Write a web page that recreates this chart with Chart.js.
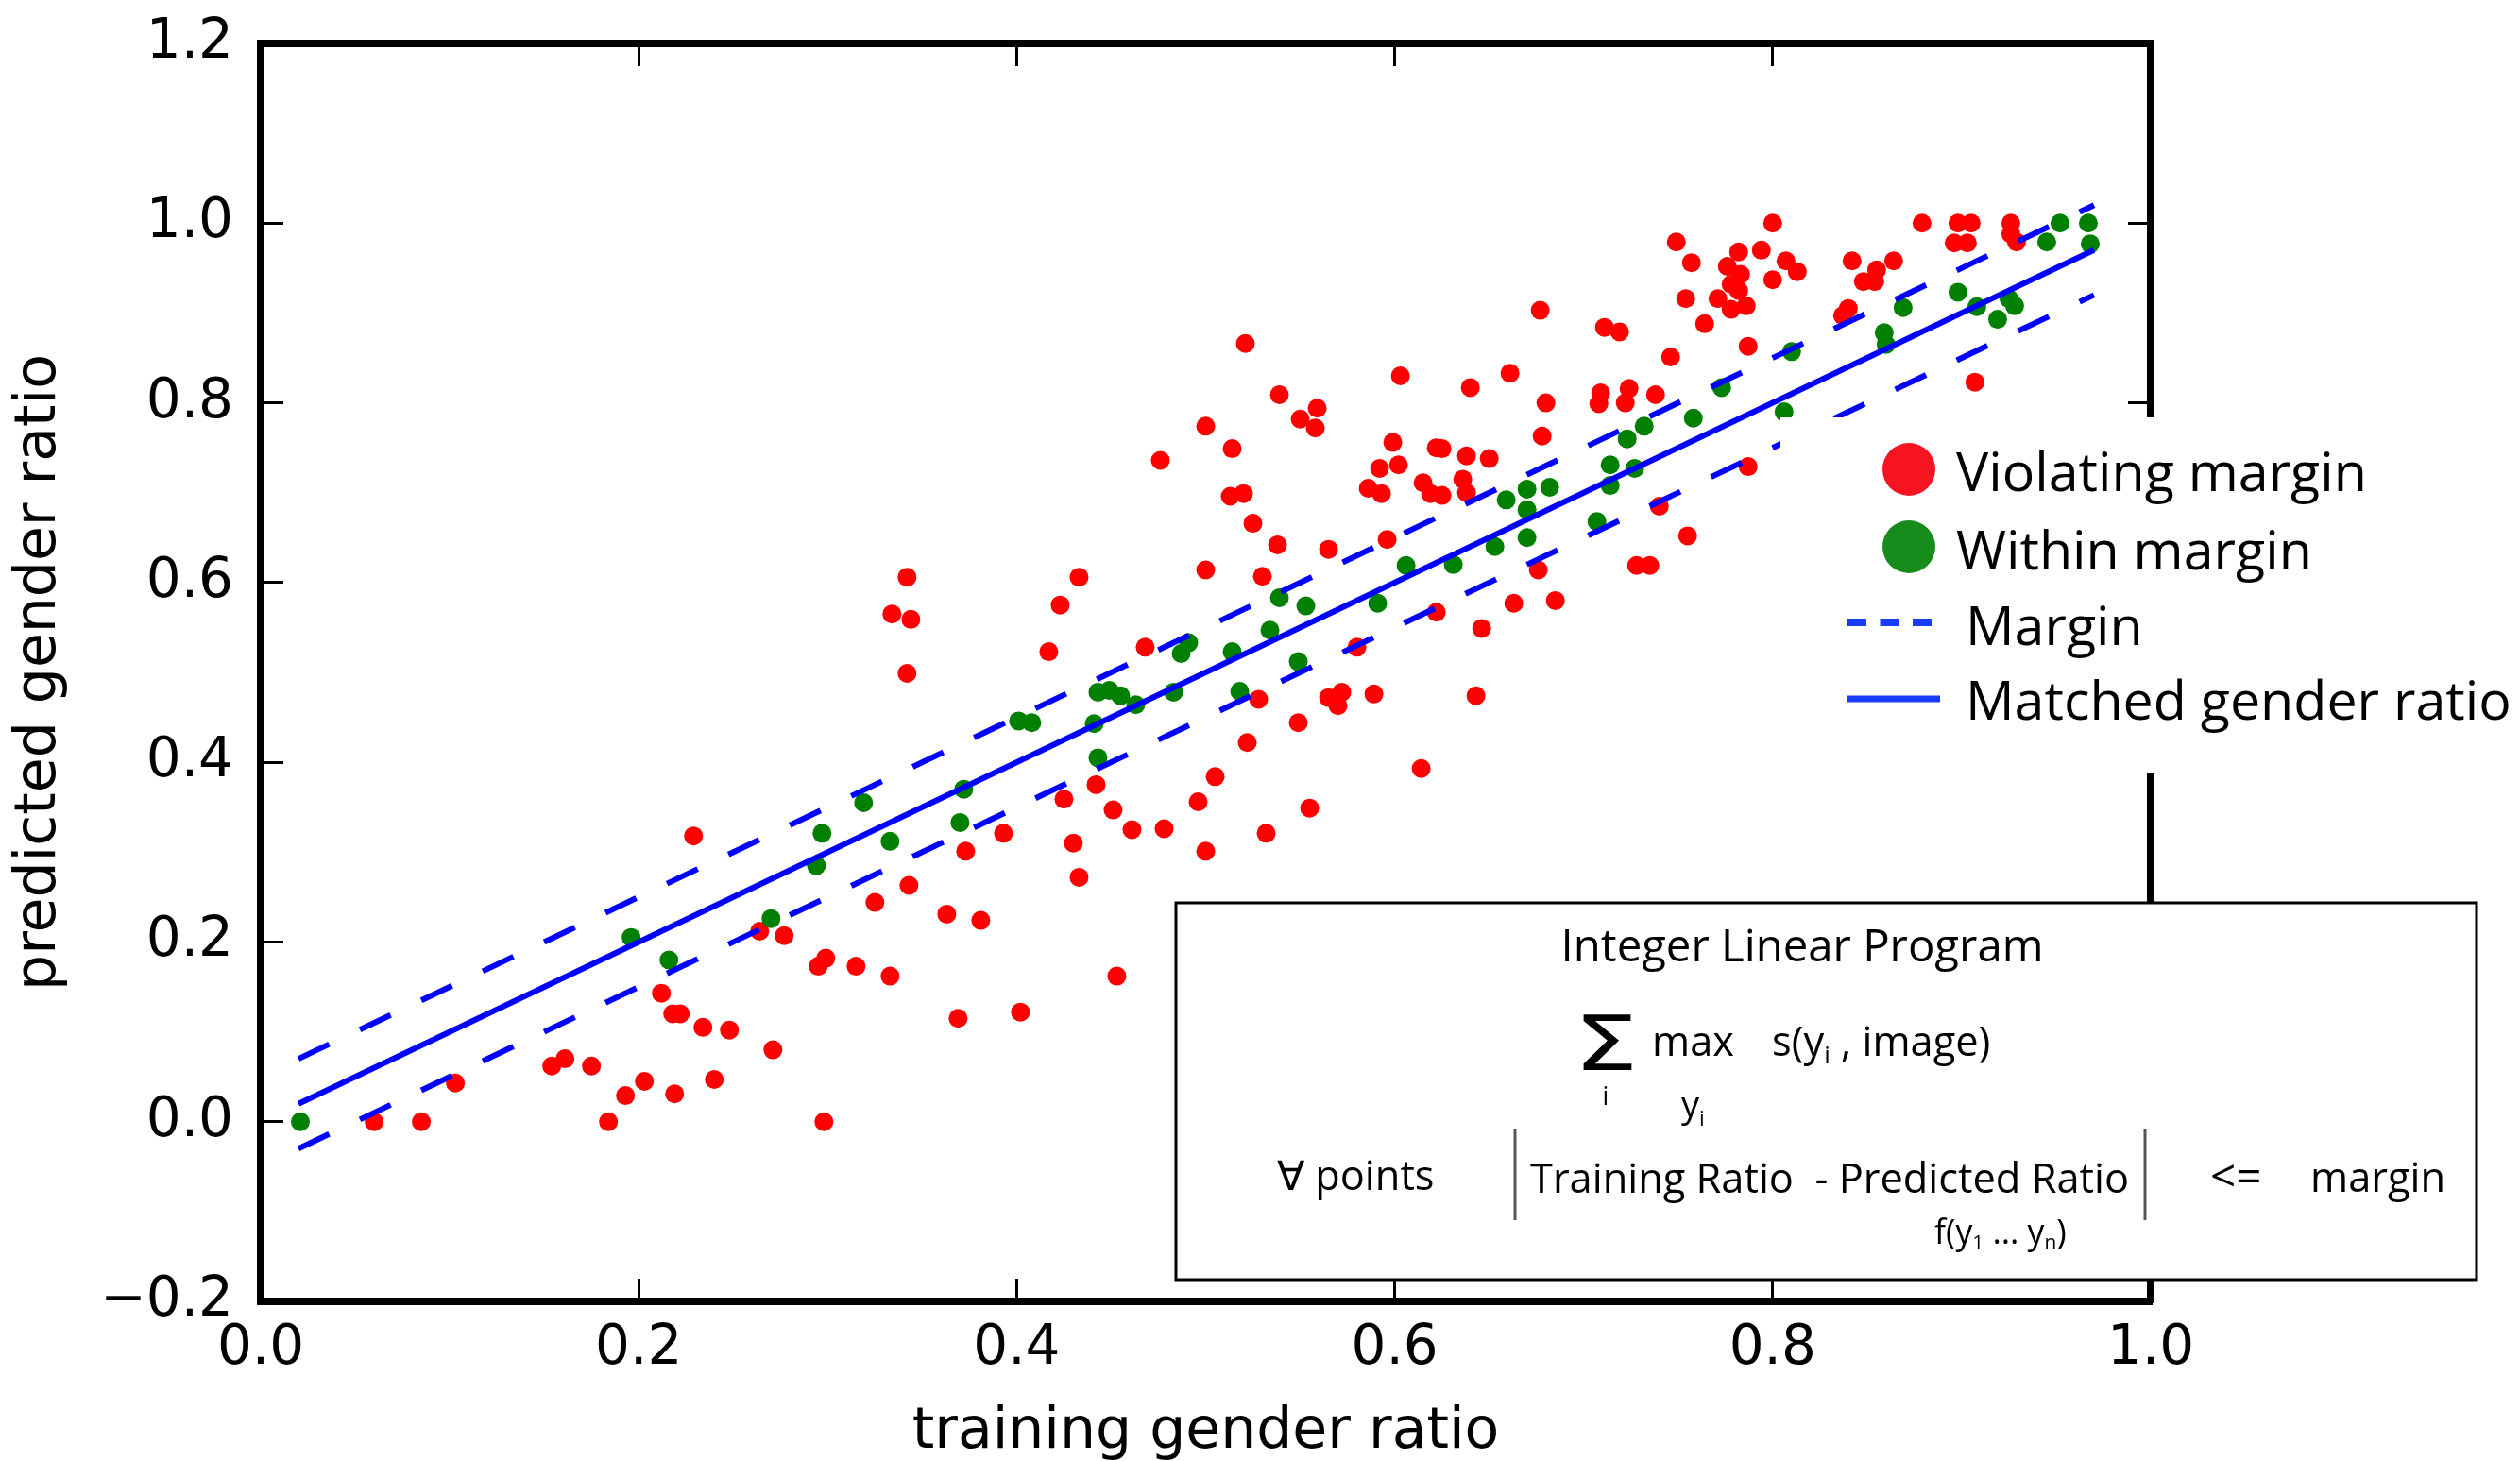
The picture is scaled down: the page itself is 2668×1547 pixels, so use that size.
<!DOCTYPE html>
<html>
<head>
<meta charset="utf-8">
<script src="https://cdn.jsdelivr.net/npm/chart.js@4.4.1/dist/chart.umd.min.js"></script>
<style>
  html, body { margin: 0; padding: 0; background: #fff; }
  canvas { display: block; }
</style>
</head>
<body>
<canvas id="ratioChart" width="2668" height="1547"></canvas>
<script>
// points outside the margin band (red)
const violatingX = [
  0.060, 0.085, 0.103, 0.154, 0.161, 0.175, 0.184, 0.193, 0.203, 0.219, 0.240, 0.212, 0.218, 0.222, 0.234, 0.248, 0.229,
  0.342, 0.264, 0.277, 0.295, 0.299, 0.315, 0.333, 0.325, 0.343, 0.363, 0.381, 0.373, 0.393, 0.425, 0.442, 0.451, 0.461,
  0.478, 0.430, 0.433, 0.453, 0.369, 0.402, 0.271, 0.298,
  0.342, 0.334, 0.344, 0.433, 0.423, 0.417, 0.468, 0.476,
  0.521, 0.500, 0.539, 0.550, 0.559, 0.558, 0.514, 0.513, 0.520, 0.525, 0.538, 0.500, 0.530, 0.565, 0.603, 0.640, 0.661,
  0.677, 0.711, 0.719, 0.680, 0.678, 0.709, 0.708, 0.724, 0.722, 0.599, 0.592, 0.602, 0.586, 0.593, 0.622, 0.625, 0.638,
  0.650, 0.615, 0.619, 0.625, 0.636, 0.638, 0.596, 0.676, 0.663, 0.685, 0.646, 0.622, 0.580, 0.728, 0.735,
  0.528, 0.565, 0.572, 0.570, 0.589, 0.643, 0.549, 0.522, 0.505, 0.496, 0.555, 0.532, 0.500, 0.614,
  0.800, 0.749, 0.757, 0.782, 0.794, 0.776, 0.783, 0.807, 0.813, 0.800, 0.778, 0.782, 0.754, 0.771, 0.778, 0.786, 0.764,
  0.787, 0.746, 0.738, 0.842, 0.855, 0.864, 0.848, 0.854, 0.840, 0.837, 0.879, 0.898, 0.905, 0.896, 0.903, 0.926, 0.926,
  0.929, 0.907, 0.787, 0.740, 0.755
];
const violatingY = [
  0.000, 0.000, 0.043, 0.062, 0.070, 0.062, 0.000, 0.029, 0.045, 0.031, 0.047, 0.143, 0.120, 0.120, 0.105, 0.102, 0.318,
  0.499, 0.212, 0.207, 0.173, 0.182, 0.173, 0.162, 0.244, 0.263, 0.231, 0.224, 0.301, 0.321, 0.359, 0.375, 0.347, 0.325,
  0.326, 0.310, 0.272, 0.162, 0.115, 0.122, 0.080, 0.000,
  0.606, 0.565, 0.559, 0.606, 0.575, 0.523, 0.528, 0.736,
  0.866, 0.774, 0.809, 0.782, 0.794, 0.772, 0.749, 0.696, 0.699, 0.666, 0.642, 0.614, 0.607, 0.637, 0.830, 0.817, 0.833,
  0.903, 0.884, 0.879, 0.800, 0.763, 0.811, 0.799, 0.816, 0.800, 0.756, 0.727, 0.731, 0.705, 0.699, 0.750, 0.749, 0.741,
  0.738, 0.711, 0.699, 0.697, 0.715, 0.700, 0.648, 0.614, 0.577, 0.580, 0.549, 0.567, 0.528, 0.619, 0.619,
  0.470, 0.472, 0.478, 0.463, 0.476, 0.474, 0.444, 0.422, 0.384, 0.356, 0.349, 0.321, 0.301, 0.393,
  1.000, 0.979, 0.956, 0.968, 0.970, 0.952, 0.943, 0.958, 0.946, 0.937, 0.932, 0.925, 0.916, 0.916, 0.904, 0.908, 0.888,
  0.863, 0.851, 0.809, 0.958, 0.948, 0.958, 0.935, 0.935, 0.905, 0.897, 1.000, 1.000, 1.000, 0.978, 0.978, 1.000, 0.988,
  0.979, 0.823, 0.729, 0.685, 0.652
];

// points inside the margin band (green)
const withinX = [
  0.021, 0.196, 0.216, 0.270, 0.294, 0.297, 0.333, 0.319, 0.370, 0.372, 0.401, 0.408, 0.441, 0.443, 0.443, 0.449, 0.455,
  0.463, 0.483, 0.487, 0.491, 0.514, 0.518, 0.534, 0.549, 0.539, 0.553, 0.591, 0.606, 0.631, 0.653, 0.670, 0.670, 0.659,
  0.670, 0.682, 0.707, 0.714, 0.714, 0.727, 0.723, 0.732, 0.758, 0.773, 0.806, 0.810, 0.859, 0.860, 0.869, 0.898, 0.908,
  0.919, 0.925, 0.928, 0.945, 0.952, 0.967, 0.968
];
const withinY = [
  0.000, 0.205, 0.180, 0.226, 0.285, 0.321, 0.312, 0.355, 0.333, 0.370, 0.446, 0.444, 0.443, 0.405, 0.478, 0.480, 0.474,
  0.464, 0.478, 0.521, 0.533, 0.523, 0.479, 0.547, 0.512, 0.583, 0.574, 0.577, 0.619, 0.620, 0.640, 0.650, 0.681, 0.692,
  0.704, 0.706, 0.668, 0.708, 0.731, 0.727, 0.760, 0.774, 0.783, 0.817, 0.790, 0.857, 0.878, 0.865, 0.906, 0.923, 0.907,
  0.893, 0.916, 0.908, 0.979, 1.000, 1.000, 0.977
];

// reference line and margin band end points
const lineX = [0.02, 0.97];
const matchedY = [0.02, 0.97];
const upperMarginY = [0.07, 1.02];
const lowerMarginY = [-0.03, 0.92];

const xTickLabels = ["0.0", "0.2", "0.4", "0.6", "0.8", "1.0"];
const yTickLabels = ["\u22120.2", "0.0", "0.2", "0.4", "0.6", "0.8", "1.0", "1.2"];

const legendColors = { violating: "#f71421", within: "#178b1c", line: "#1a3cff" };
const textFont = '"Open Sans", "Noto Sans", sans-serif';

const toPoints = (xs, ys) => xs.map((x, i) => ({ x, y: ys[i] }));

// font size that makes a string span the given width
function fitSize(ctx, text, width) {
  ctx.font = `100px ${textFont}`;
  return 100 * width / ctx.measureText(text).width;
}

function textRuns(ctx, x, baseline, parts) {
  parts.forEach(([text, size, dy]) => {
    ctx.font = `${size}px ${textFont}`;
    ctx.fillText(text, x, baseline + (dy || 0));
    x += ctx.measureText(text).width;
  });
}

function drawLegend(ctx, chart) {
  const sets = chart.data.datasets;
  ctx.fillStyle = "#fff";
  ctx.fillRect(1885, 442, 2668 - 1885, 818 - 442);

  ctx.fillStyle = legendColors.violating;
  ctx.beginPath(); ctx.arc(2021, 497, 28, 0, Math.PI * 2); ctx.fill();
  ctx.fillStyle = legendColors.within;
  ctx.beginPath(); ctx.arc(2021, 579, 28, 0, Math.PI * 2); ctx.fill();

  ctx.strokeStyle = legendColors.line;
  ctx.lineWidth = 8;
  ctx.setLineDash([20, 14.5]);
  ctx.beginPath(); ctx.moveTo(1956, 659); ctx.lineTo(2045, 659); ctx.stroke();
  ctx.setLineDash([]);
  ctx.lineWidth = 7;
  ctx.beginPath(); ctx.moveTo(1955, 740); ctx.lineTo(2054, 740); ctx.stroke();

  const size = fitSize(ctx, sets[0].label, 435);
  ctx.fillStyle = "#000";
  ctx.textAlign = "left";
  ctx.textBaseline = "alphabetic";
  ctx.font = `${size}px ${textFont}`;
  ctx.fillText(sets[0].label, 2071, 520);
  ctx.fillText(sets[1].label, 2071, 603);
  ctx.fillText(sets[2].label, 2081, 683);
  ctx.fillText(sets[4].label, 2081, 762);
}

function drawProgramBox(ctx) {
  ctx.fillStyle = "#fff";
  ctx.fillRect(1245, 956, 1377, 399);
  ctx.strokeStyle = "#000";
  ctx.lineWidth = 3;
  ctx.strokeRect(1245, 956, 1377, 399);

  const title = "Integer Linear Program";
  const constraint = "Training Ratio  - Predicted Ratio";
  const titleSize = fitSize(ctx, title, 511);
  const body = fitSize(ctx, constraint, 634);

  ctx.fillStyle = "#000";
  ctx.textBaseline = "alphabetic";
  ctx.textAlign = "center";
  ctx.font = `${titleSize}px ${textFont}`;
  ctx.fillText(title, 1908, 1018);

  ctx.save();
  ctx.translate(1700, 1133);
  ctx.scale(1.35, 1);
  ctx.font = '80px "DejaVu Sans"';
  ctx.fillText("\u03A3", 0, 0);
  ctx.restore();
  ctx.font = `${body * 0.62}px ${textFont}`;
  ctx.fillText("i", 1700, 1170);

  ctx.textAlign = "left";
  textRuns(ctx, 1749, 1118, [["max", body]]);
  textRuns(ctx, 1876, 1118, [["s(y", body], ["i", body * 0.6, 8], [" , image)", body]]);
  textRuns(ctx, 1780, 1183, [["y", body * 0.88], ["i", body * 0.52, 9]]);

  textRuns(ctx, 1352, 1260, [["\u2200 points", body]]);
  textRuns(ctx, 1620, 1263, [[constraint, body]]);
  textRuns(ctx, 2340, 1262, [["<=", body * 1.1]]);
  textRuns(ctx, 2446, 1262, [["margin", body]]);
  textRuns(ctx, 2048, 1317, [["f(y", body * 0.82], ["1", body * 0.48, 5], [" ... y", body * 0.82],
    ["n", body * 0.48, 5], [")", body * 0.82]]);

  ctx.strokeStyle = "#555";
  ctx.lineWidth = 3;
  ctx.beginPath();
  ctx.moveTo(1604, 1195); ctx.lineTo(1604, 1292);
  ctx.moveTo(2271, 1195); ctx.lineTo(2271, 1292);
  ctx.stroke();
}

const overlayPlugin = {
  id: "overlay",
  afterDraw(chart) {
    const ctx = chart.ctx;
    ctx.save();
    drawLegend(ctx, chart);
    drawProgramBox(ctx);
    ctx.restore();
  }
};

Chart.defaults.font.family = '"DejaVu Sans", sans-serif';
Chart.defaults.color = "#000";

const frameBorder = { display: true, color: "#000", width: 8 };
const inwardTicks = { display: true, drawOnChartArea: false, drawTicks: true, tickLength: -24, color: "#000", tickWidth: 3 };

// keep label overflow from pushing the plot area around
function fixedSize(prop, size) {
  return (scale) => {
    scale[prop] = size;
    scale.paddingTop = 0;
    scale.paddingBottom = 0;
    scale.paddingLeft = 0;
    scale.paddingRight = 0;
  };
}

new Chart(document.getElementById("ratioChart"), {
  type: "scatter",
  data: {
    datasets: [
      {
        label: "Violating margin",
        data: toPoints(violatingX, violatingY),
        pointRadius: 10,
        pointBorderWidth: 0,
        backgroundColor: "#ff0000",
        borderColor: "#ff0000",
        order: 2
      },
      {
        label: "Within margin",
        data: toPoints(withinX, withinY),
        pointRadius: 10,
        pointBorderWidth: 0,
        backgroundColor: "#007f00",
        borderColor: "#007f00",
        order: 1
      },
      {
        label: "Margin",
        data: toPoints(lineX, upperMarginY),
        showLine: true,
        pointRadius: 0,
        borderColor: "#0000ff",
        borderWidth: 6,
        borderDash: [36, 36],
        order: 0
      },
      {
        label: "",
        data: toPoints(lineX, lowerMarginY),
        showLine: true,
        pointRadius: 0,
        borderColor: "#0000ff",
        borderWidth: 6,
        borderDash: [36, 36],
        order: 0
      },
      {
        label: "Matched gender ratio",
        data: toPoints(lineX, matchedY),
        showLine: true,
        pointRadius: 0,
        borderColor: "#0000ff",
        borderWidth: 6,
        order: 0
      }
    ]
  },
  options: {
    responsive: false,
    devicePixelRatio: 1,
    animation: false,
    events: [],
    layout: { autoPadding: false, padding: { top: 46, right: 391, bottom: 0, left: 0 } },
    plugins: { legend: { display: false }, tooltip: { enabled: false } },
    scales: {
      x: {
        type: "linear",
        position: "bottom",
        min: 0,
        max: 1,
        border: frameBorder,
        grid: inwardTicks,
        ticks: {
          stepSize: 0.2,
          autoSkip: false,
          maxRotation: 0,
          padding: 40,
          font: { size: 58 },
          callback: (value, index) => xTickLabels[index]
        },
        title: {
          display: true,
          text: "training gender ratio",
          font: { size: 60, lineHeight: 1 },
          padding: 0
        },
        afterFit: fixedSize("height", 169)
      },
      y: {
        type: "linear",
        position: "left",
        min: -0.2,
        max: 1.2,
        border: frameBorder,
        grid: inwardTicks,
        ticks: {
          stepSize: 0.2,
          autoSkip: false,
          padding: 53,
          font: { size: 58 },
          callback: (value, index) => yTickLabels[index]
        },
        title: {
          display: true,
          text: "predicted gender ratio",
          font: { size: 60, lineHeight: 1 },
          padding: { top: 12, bottom: 0 }
        },
        afterFit: fixedSize("width", 276)
      },
      x2: {
        type: "linear",
        position: "top",
        min: 0,
        max: 1,
        border: frameBorder,
        grid: inwardTicks,
        ticks: { display: false, stepSize: 0.2 },
        afterFit: fixedSize("height", 0)
      },
      y2: {
        type: "linear",
        position: "right",
        min: -0.2,
        max: 1.2,
        border: frameBorder,
        grid: inwardTicks,
        ticks: { display: false, stepSize: 0.2 },
        afterFit: fixedSize("width", 0)
      }
    }
  },
  plugins: [overlayPlugin]
});
</script>
</body>
</html>
